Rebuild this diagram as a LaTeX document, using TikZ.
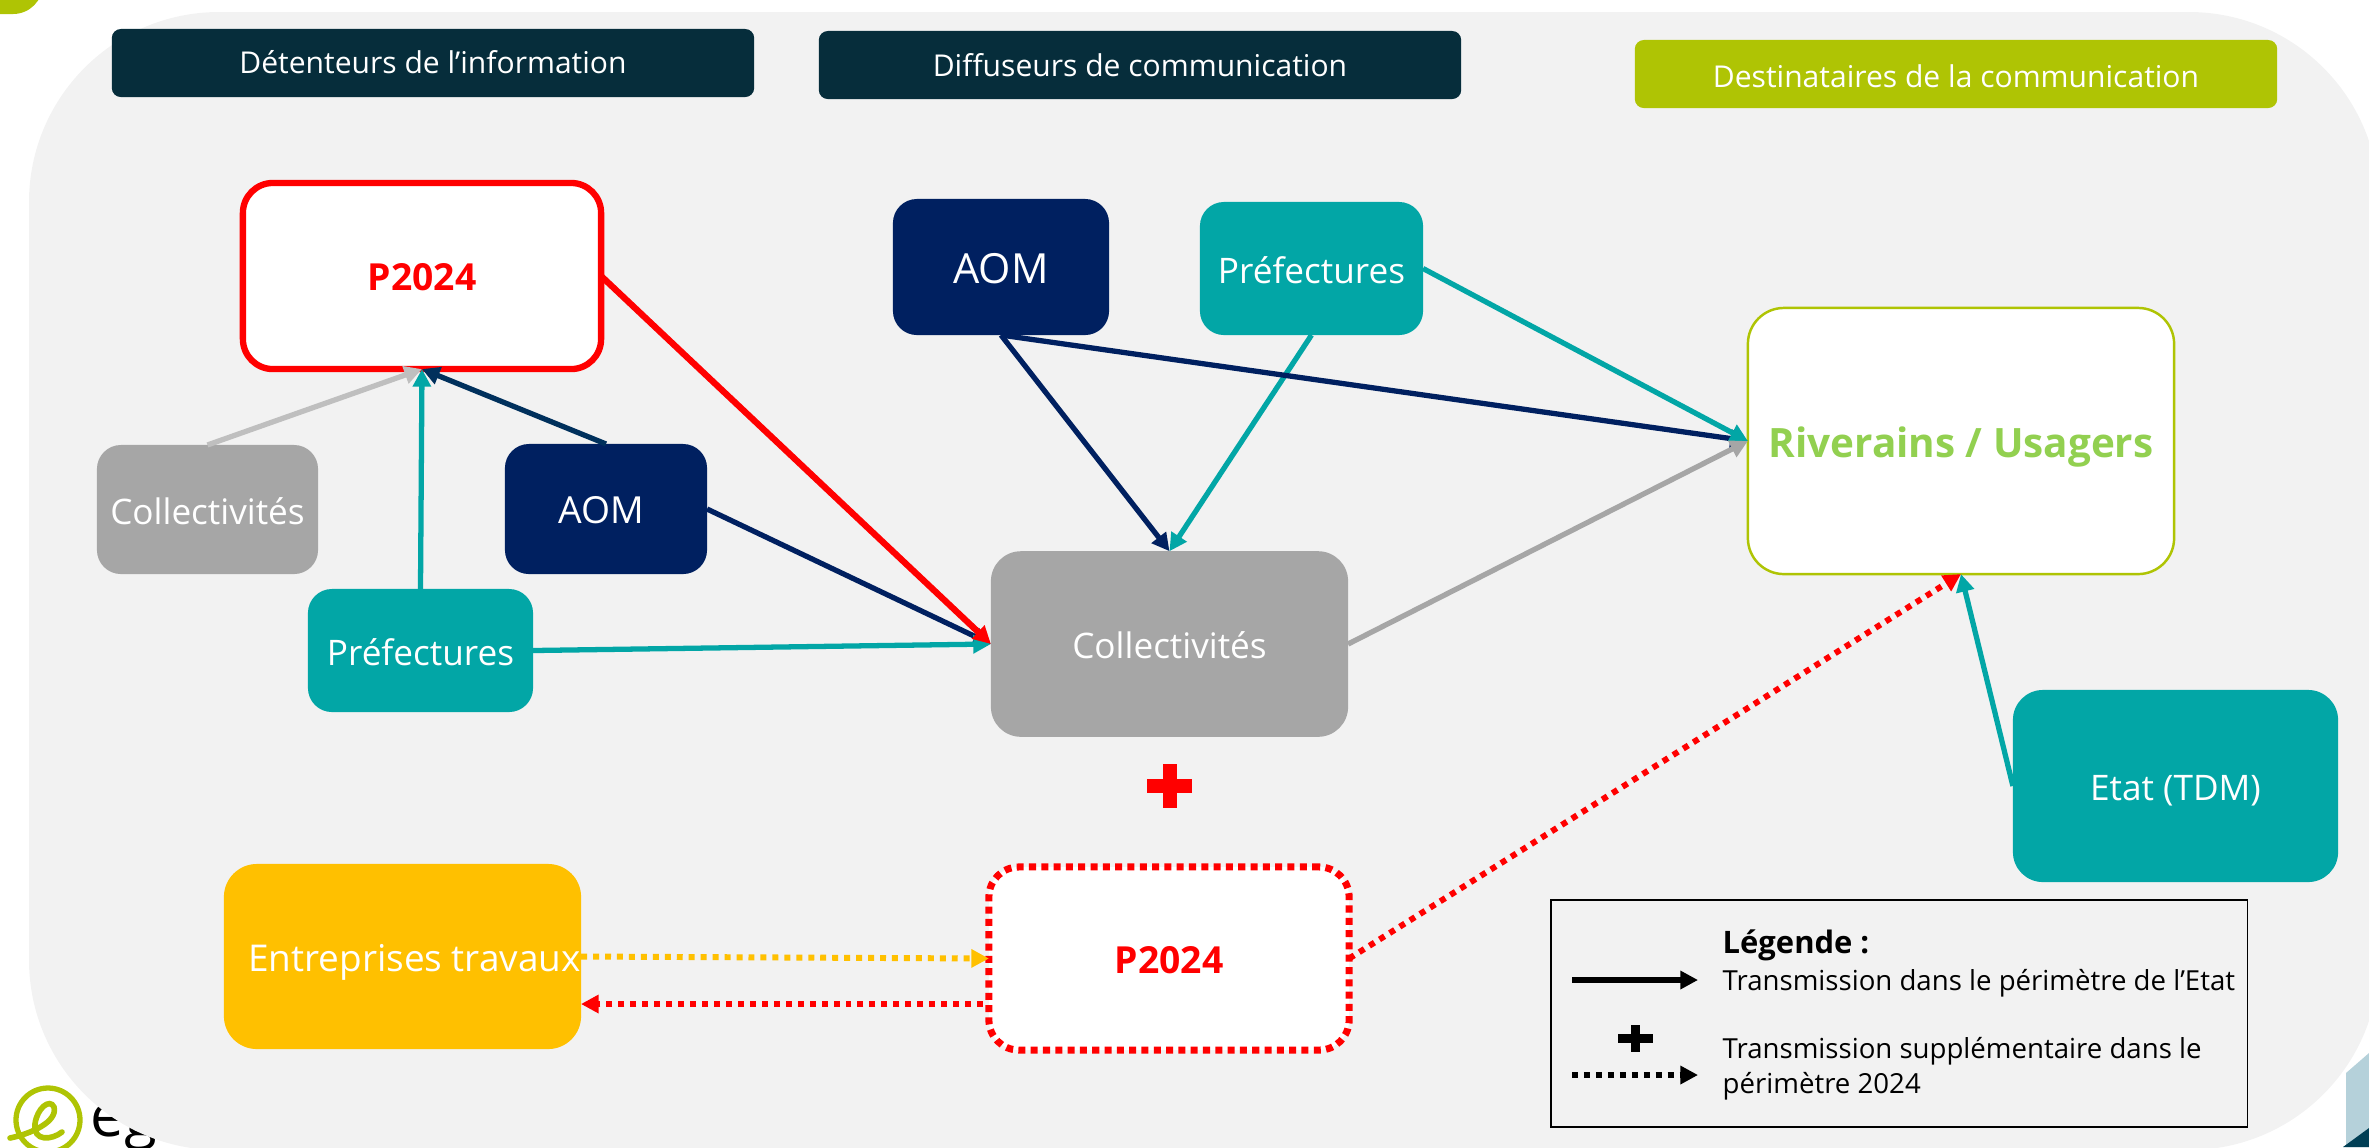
\documentclass[tikz,border=0pt]{standalone}
\usepackage{fontspec}
\setmainfont{Open Sans}
\usetikzlibrary{arrows.meta}
\definecolor{fond}{HTML}{F2F2F2}
\definecolor{nuit}{HTML}{062D3B}
\definecolor{anis}{HTML}{AFC404}
\definecolor{marine}{HTML}{002060}
\definecolor{canard}{HTML}{02A6A6}
\definecolor{gris}{HTML}{A6A6A6}
\definecolor{clair}{HTML}{BFBFBF}
\definecolor{jaune}{HTML}{FFC000}
\definecolor{pomme}{HTML}{92D050}
\definecolor{ciel}{HTML}{B5D1DA}
\definecolor{petrole}{HTML}{003F55}
\definecolor{bleu}{HTML}{00305C}
\begin{document}
\begin{tikzpicture}[x=0.01cm, y=-0.01cm,
	box/.style={rectangle, rounded corners=0.24cm, inner sep=0pt, outer sep=0pt, text=white, text height=8.5pt, text depth=0pt, font=\fontsize{10}{12}\selectfont},
	header/.style={box, rounded corners=0.09cm, minimum width=6.42cm, minimum height=0.68cm, text height=7.4pt, font=\fontsize{8.55}{11}\selectfont},
	fleche/.style={-{Triangle[length=5pt,width=5pt]}, line width=1.5pt},
	pointilles/.style={fleche, line width=1.7pt, dash pattern=on 1.7pt off 1.7pt},
	legende/.style={anchor=base west, inner sep=0pt, font=\fontsize{7.85}{10}\selectfont}]
	\path[use as bounding box, clip] (0,0) rectangle (2369,1147);
	\fill[anis, rounded corners=0.3cm] (-60,-60) rectangle (43,14);
	\draw[anis, line width=1.5pt] (48,1120) circle (32);
	\draw[anis, line width=1.6pt, line cap=round] (10,1138) .. controls (30,1134) and (58,1122) .. (54,1107) .. controls (50,1098) and (37,1108) .. (35,1124) .. controls (33,1142) and (52,1140) .. (62,1132);
	\node[anchor=base west, inner sep=0pt, font=\fontsize{17}{20}\selectfont] (marque) at (90,1136) {eg};
	\fill[fond, rounded corners=1.9cm] (29,12) rectangle (2379,1150);
	\fill[ciel] (2346,1147) -- (2346,1073) -- (2369,1053) -- (2369,1147) -- cycle;
	\fill[petrole] (2343,1147) -- (2369,1128) -- (2369,1147) -- cycle;

	\node[header, fill=nuit, text height=6.2pt] (tete1) at (433,63) {Détenteurs de l’information};
	\node[header, fill=nuit, text height=6.6pt] (tete2) at (1140,65) {Diffuseurs de communication};
	\node[header, fill=anis] (tete3) at (1956,74) {Destinataires de la communication};

	\node[box, fill=white, draw=red, line width=1.8pt, rounded corners=0.3cm, minimum width=3.58cm, minimum height=1.86cm, text=red, font=\fontsize{10.6}{13}\selectfont\bfseries] (ptop) at (422,276) {P2024};
	\node[box, fill=gris, minimum width=2.21cm, minimum height=1.29cm] (collg) at (207.5,509.5) {Collectivités};
	\node[box, fill=marine, minimum width=2.02cm, minimum height=1.30cm, font=\fontsize{10.6}{12}\selectfont] (aomg) at (606,509) {AOM\hspace*{0.1cm}};
	\node[box, fill=canard, minimum width=2.25cm, minimum height=1.23cm] (prefg) at (420.5,650.5) {Préfectures};
	\node[box, fill=marine, minimum width=2.16cm, minimum height=1.36cm, text height=9.5pt, font=\fontsize{11.8}{14}\selectfont] (aomc) at (1001,267) {AOM};
	\node[box, fill=canard, minimum width=2.23cm, minimum height=1.33cm] (prefc) at (1311.5,268.5) {Préfectures};
	\node[box, fill=gris, rounded corners=0.3cm, minimum width=3.57cm, minimum height=1.855cm] (collc) at (1169.5,644) {Collectivités};
	\node[box, fill=white, draw=anis, line width=0.7pt, rounded corners=0.36cm, minimum width=4.26cm, minimum height=2.66cm, text=pomme, text height=9.5pt, font=\fontsize{11.5}{14}\selectfont\bfseries] (usagers) at (1961,441) {Riverains / Usagers};
	\node[box, fill=canard, rounded corners=0.3cm, minimum width=3.25cm, minimum height=1.92cm] (etat) at (2175.5,786) {Etat (TDM)};
	\node[box, fill=jaune, rounded corners=0.33cm, minimum width=3.57cm, minimum height=1.85cm, font=\fontsize{10.5}{12}\selectfont] (entreprises) at (402.5,956.5) {\hspace*{0.24cm}Entreprises travaux};
	\node[box, fill=white, draw=red, line width=2pt, dash pattern=on 2pt off 1.5pt, rounded corners=0.3cm, minimum width=3.6cm, minimum height=1.83cm, text=red, font=\fontsize{10.6}{13}\selectfont\bfseries] (pdash) at (1169,958.5) {P2024};

	\draw[fleche, clair] (collg.north) -- (ptop.south);
	\draw[fleche, canard] (prefg.north) -- (ptop.south);
	\draw[fleche, bleu] (aomg.north) -- (ptop.south);
	\draw[fleche, marine] (aomg.east) -- (collc.west);
	\draw[fleche, canard] (prefg.east) -- (collc.west);
	\draw[fleche, red, line width=1.8pt] (ptop.east) -- (collc.west);
	\draw[fleche, marine] (aomc.south) -- (collc.north);
	\draw[fleche, canard] (prefc.south) -- (collc.north);
	\draw[fleche, marine] (aomc.south) -- (usagers.west);
	\draw[fleche, canard] (prefc.east) -- (usagers.west);
	\draw[fleche, gris] (collc.east) -- (usagers.west);
	\draw[fleche, canard] (etat.west) -- (usagers.south);
	\draw[pointilles, red] (pdash.east) -- (usagers.south);
	\draw[pointilles, jaune] (entreprises.east) -- (pdash.west);
	\coordinate (retourA) at (983,1004);
	\coordinate (retourB) at (581,1004);
	\draw[pointilles, red] (retourA) -- (retourB);

	\fill[red] (1147,779) rectangle (1192,793);
	\fill[red] (1163,764) rectangle (1177,808);

	\node[rectangle, draw=black, line width=0.4pt, inner sep=0pt, minimum width=6.96cm, minimum height=2.27cm] (cadre) at (1899,1013.5) {};
	\node[legende, font=\fontsize{8.8}{10}\selectfont\bfseries] (leg1) at (1722,953) {Légende :};
	\node[legende] (leg2) at (1722,990) {Transmission dans le périmètre de l’Etat};
	\node[legende] (leg3) at (1722,1058) {Transmission supplémentaire dans le};
	\node[legende] (leg4) at (1722,1093) {périmètre 2024};
	\coordinate (plein1) at (1572,980);
	\coordinate (plein2) at (1698,980);
	\coordinate (point1) at (1572,1075);
	\coordinate (point2) at (1698,1075);
	\draw[fleche, black] (plein1) -- (plein2);
	\draw[pointilles, black] (point1) -- (point2);
	\fill[black] (1618,1034) rectangle (1653,1043);
	\fill[black] (1631,1025) rectangle (1640,1052);
\end{tikzpicture}
\end{document}
